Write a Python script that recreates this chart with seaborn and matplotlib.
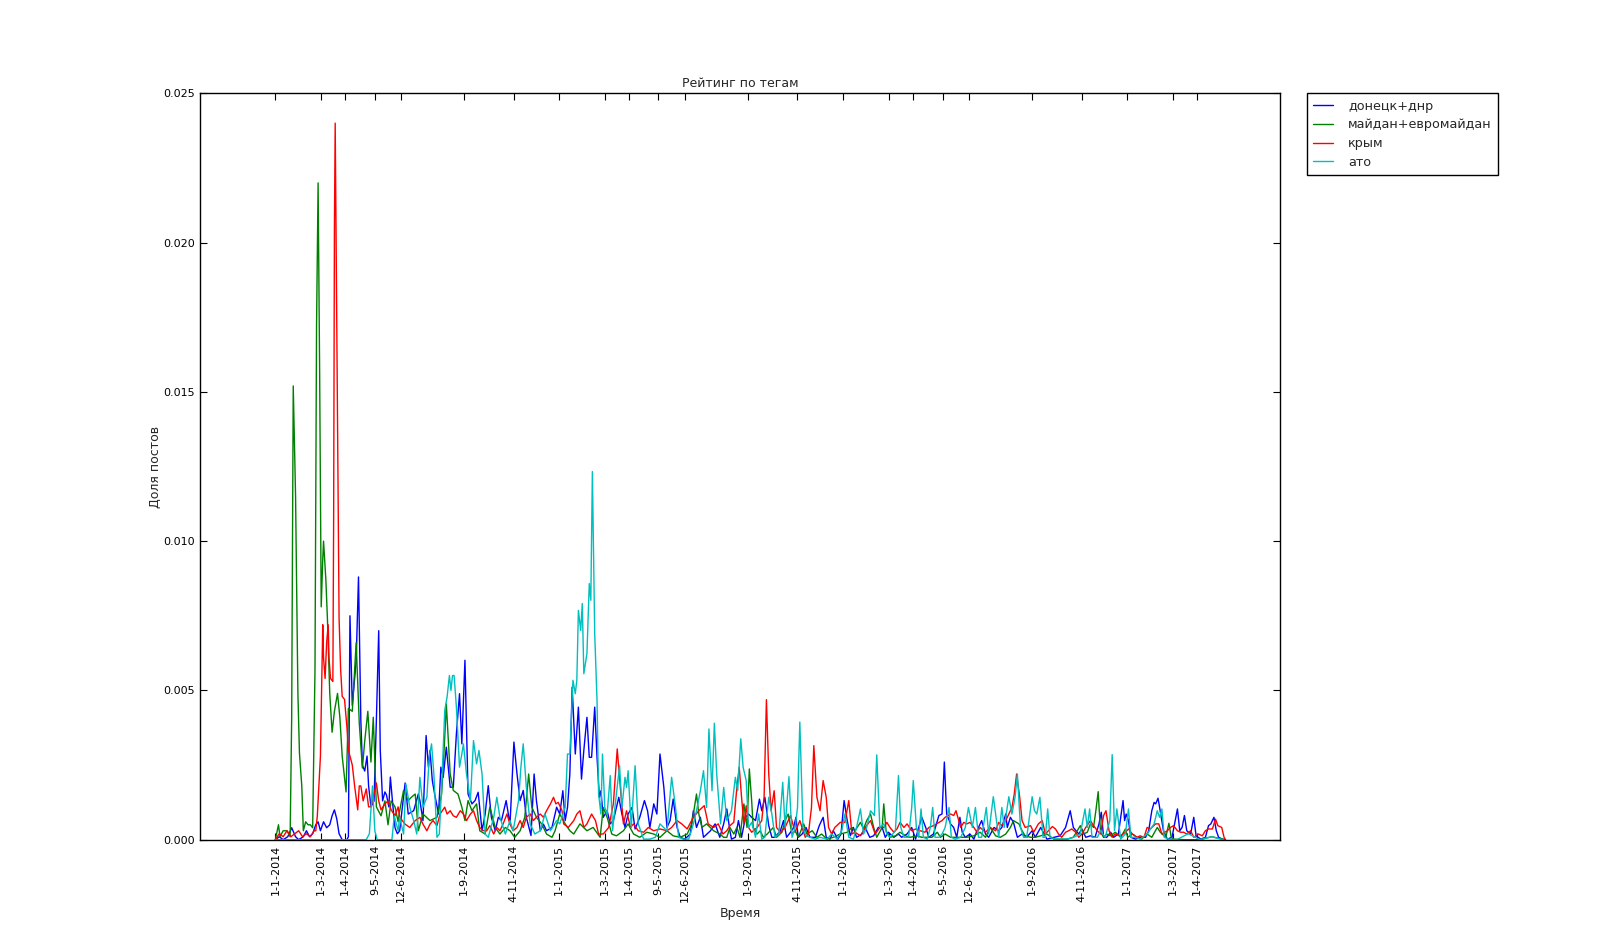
import matplotlib
matplotlib.use("Agg")
import matplotlib.pyplot as plt
from matplotlib.ticker import FormatStrFormatter
import pandas as pd
import seaborn as sns

START = "2014-01-01"

# (days since 1-1-2014, share of posts)
donetsk_dnr = [
    (0, 0), (5, 0.0001), (10, 0), (16, 0.0001), (21, 0.0004), (26, 0.0001), (30, 0), (36, 0.0001),
    (40, 0.0003), (44, 0.0001), (48, 0.0002), (52, 0.0005), (55, 0.0006), (58, 0.0003), (62, 0.0006),
    (66, 0.0004), (70, 0.0005), (73, 0.0008), (76, 0.0010), (79, 0.0007), (82, 0.0002), (86, 0),
    (92, 0), (94, 0.0001), (96, 0.0075), (99, 0.0045), (101, 0.0051), (104, 0.0060), (107, 0.0088),
    (110, 0.0040), (112, 0.0025), (115, 0.0023), (118, 0.0028), (120, 0.0018), (123, 0.0011),
    (127, 0.0013), (130, 0.0040), (133, 0.0070), (135, 0.0030), (138, 0.0013), (141, 0.0016),
    (143, 0.0015), (146, 0.0011), (148, 0.0021), (151, 0.0012), (154, 0.0004), (157, 0.0002),
    (160, 0.0003), (167, 0.0019), (171, 0.00086), (178, 0.00097), (184, 0.00153), (186, 0.00131),
    (190, 0.00064), (194, 0.00349), (197, 0.00243), (199, 0.00299), (202, 0.00198), (205, 0.00153),
    (210, 0.00086), (213, 0.00243), (216, 0.00209), (220, 0.0031), (225, 0.00176), (229, 0.00176),
    (233, 0.00355), (237, 0.00489), (240, 0.00321), (244, 0.00601), (248, 0.00153), (253, 0.0012),
    (257, 0.00131), (261, 0.00159), (266, 0.0003), (270, 0.00086), (274, 0.00181), (278, 0.00075),
    (283, 0.0003), (287, 0.00075), (291, 0.00064), (297, 0.00131), (302, 0.00052), (307, 0.00327),
    (311, 0.0022), (315, 0.00131), (319, 0.00165), (323, 0.00075), (329, 0.00014), (333, 0.0022),
    (336, 0.00131), (341, 0.0003), (345, 0.00052), (349, 0.0003), (356, 0.00041), (362, 0.00109),
    (366, 0.00086), (370, 0.00164), (373, 0.00064), (376, 0.00108), (379, 0.0022), (382, 0.00511),
    (386, 0.00287), (390, 0.00444), (394, 0.00203), (397, 0.00299), (401, 0.0041), (404, 0.00276),
    (407, 0.00276), (411, 0.00444), (414, 0.00276), (417, 0.00142), (419, 0.00164), (422, 0.00075),
    (427, 0.00097), (431, 0.00053), (435, 0.00064), (442, 0.00142), (446, 0.00086), (450, 0.00041),
    (454, 0.00086), (459, 0.00108), (463, 0.00036), (469, 0.00075), (475, 0.00131), (479, 0.00097),
    (482, 0.00041), (487, 0.0012), (491, 0.00086), (495, 0.00287), (500, 0.00175), (504, 0.00041),
    (508, 0.00064), (512, 0.00136), (517, 0.00041), (521, 0.00008), (527, 0.00002), (534, 0.00019),
    (538, 0.00097), (542, 0.00041), (547, 0.00075), (551, 0.00008), (560, 0.0003), (566, 0.00053),
    (572, 0.00008), (577, 0.00053), (581, 0.00103), (585, 0.0003), (587, 0.00002), (592, 0.00008),
    (596, 0.00064), (600, 0.00008), (605, 0.00075), (609, 0.00086), (613, 0.00075), (618, 0.00064),
    (623, 0.00136), (626, 0.00097), (630, 0.00142), (635, 0.00047), (639, 0.00008), (643, 0.00008),
    (650, 0.0003), (654, 0.00064), (658, 0.00008), (663, 0.00025), (667, 0.00041), (670, 0.00075),
    (673, 0.00008), (678, 0.00019), (683, 0.00041), (688, 0.00008), (695, 0.00008), (700, 0.00047),
    (705, 0.00075), (709, 0.00008), (714, 0.00002), (718, 0.0003), (724, 0.00002), (728, 0.00019),
    (732, 0.00131), (736, 0.00064), (740, 0.00013), (744, 0.00041), (748, 0.00008), (755, 0.00019),
    (759, 0.00041), (765, 0.00008), (770, 0.00013), (776, 0.00041), (781, 0.00041), (785, 0.00008),
    (789, 0.00025), (796, 0.00008), (802, 0.00019), (806, 0.00008), (813, 0.00019), (819, 0.00041),
    (824, 0.00002), (828, 0.00041), (832, 0.00075), (837, 0.00041), (841, 0.00008), (847, 0.00019),
    (854, 0.00081), (858, 0.00086), (861, 0.0026), (864, 0.00086), (869, 0.00053), (873, 0.00041),
    (877, 0.00008), (881, 0.00075), (884, 0.00025), (888, 0.00008), (894, 0.00019), (899, 0.00002),
    (903, 0.0003), (909, 0.00064), (914, 0.00019), (918, 0.00008), (925, 0.00041), (931, 0.0003),
    (935, 0.00041), (940, 0.00086), (942, 0.00041), (946, 0.00075), (950, 0.00058), (955, 0.00008),
    (961, 0.00019), (967, 0.00008), (974, 0.0003), (978, 0.00008), (985, 0.00041), (993, 0.00002),
    (1002, 0.00008), (1010, 0.00013), (1017, 0.00041), (1023, 0.00097), (1027, 0.00041),
    (1034, 0.00019), (1038, 0.00036), (1043, 0.00008), (1049, 0.00013), (1055, 0.00008),
    (1060, 0.00053), (1063, 0.00092), (1066, 0.00008), (1070, 0.00008), (1075, 0.00025),
    (1079, 0.00008), (1085, 0.00019), (1091, 0.00131), (1093, 0.00064), (1095, 0.00086),
    (1098, 0.00064), (1101, 0.00008), (1107, 0.00002), (1113, 0.00008), (1120, 0.00008),
    (1124, 0.0003), (1128, 0.00097), (1131, 0.00125), (1133, 0.0012), (1136, 0.00139),
    (1138, 0.00109), (1143, 0.0003), (1148, 0.00002), (1154, 0.00008), (1161, 0.00103),
    (1164, 0.0003), (1167, 0.00041), (1170, 0.00081), (1173, 0.0003), (1178, 0.00019),
    (1182, 0.00075), (1185, 0.00013), (1191, 0.00002), (1197, 0.00008), (1201, 0.00047),
    (1204, 0.00053), (1208, 0.00075), (1211, 0.0003), (1214, 0.00008), (1219, 0.00002), (1222, 0),
]

maidan = [
    (0, 0), (4, 0.0005), (6, 0.0001), (10, 0.0003), (15, 0.0003), (19, 0.0001), (21, 0.0041),
    (23, 0.0152), (26, 0.0115), (29, 0.0049), (31, 0.0029), (34, 0.0018), (36, 0.0003), (39, 0.0006),
    (42, 0.0005), (45, 0.0005), (48, 0.0004), (51, 0.0057), (53, 0.0172), (55, 0.0220), (57, 0.0156),
    (59, 0.0078), (61, 0.0094), (62, 0.0100), (65, 0.0087), (67, 0.0074), (70, 0.0049), (73, 0.0036),
    (76, 0.0043), (80, 0.0049), (83, 0.0041), (86, 0.0028), (91, 0.0016), (94, 0.0044), (99, 0.0043),
    (104, 0.0066), (108, 0.0039), (112, 0.0024), (115, 0.0033), (119, 0.0043), (123, 0.0026),
    (126, 0.0041), (130, 0.0011), (136, 0.0008), (141, 0.0013), (145, 0.0005), (149, 0.0013),
    (154, 0.0011), (158, 0.0006), (160, 0.00097), (165, 0.00165), (171, 0.00131), (175, 0.00142),
    (180, 0.00153), (184, 0.0003), (190, 0.00086), (199, 0.00064), (208, 0.00075), (214, 0.00153),
    (218, 0.00343), (220, 0.00455), (225, 0.0022), (229, 0.00165), (235, 0.00153), (240, 0.00109),
    (244, 0.00064), (248, 0.00131), (253, 0.00097), (259, 0.0012), (263, 0.0003), (270, 0.00019),
    (276, 0.00109), (283, 0.00041), (289, 0.00019), (296, 0.00041), (302, 0.0003), (308, 0.00008),
    (315, 0.0003), (321, 0.00075), (326, 0.0022), (330, 0.00109), (336, 0.00075), (343, 0.00052),
    (349, 0.00019), (356, 0.00008), (360, 0.0003), (366, 0.00086), (373, 0.00053), (379, 0.0003),
    (384, 0.00019), (392, 0.00053), (401, 0.0003), (409, 0.00041), (418, 0.00008), (422, 0.00108),
    (427, 0.00075), (433, 0.00019), (439, 0.00013), (448, 0.0003), (454, 0.00053), (461, 0.00019),
    (469, 0.00008), (478, 0.00025), (487, 0.00019), (495, 0.00008), (504, 0.0003), (512, 0.00013),
    (521, 0.00008), (530, 0.00019), (536, 0.00053), (542, 0.00153), (545, 0.00086), (549, 0.00041),
    (555, 0.00053), (564, 0.0003), (572, 0.00019), (577, 0.00008), (581, 0.00008), (585, 0.00041),
    (590, 0.00019), (594, 0.00041), (598, 0.00008), (603, 0.0012), (607, 0.00041), (610, 0.00237),
    (613, 0.00131), (615, 0.00041), (620, 0.00019), (624, 0.0003), (628, 0.00008), (633, 0.00019),
    (637, 0.0003), (641, 0.00041), (645, 0.00008), (652, 0.00025), (656, 0.00064), (660, 0.00086),
    (665, 0.00019), (669, 0.0003), (673, 0.00008), (680, 0.00053), (684, 0.00019), (691, 0.0003),
    (697, 0.00008), (703, 0.00019), (710, 0.00002), (718, 0.00008), (727, 0.00019), (736, 0.00025),
    (742, 0.00041), (746, 0.0003), (753, 0.00058), (757, 0.00036), (761, 0.00064), (766, 0.00086),
    (770, 0.00041), (774, 0.00008), (781, 0.00041), (783, 0.0012), (786, 0.0003), (791, 0.00008),
    (798, 0.00013), (804, 0.00025), (811, 0.00013), (817, 0.00008), (826, 0.00013), (832, 0.00008),
    (839, 0.00008), (845, 0.00008), (852, 0.00025), (856, 0.00008), (862, 0.00019), (869, 0.00008),
    (875, 0.00008), (882, 0.00008), (890, 0.00008), (899, 0.00013), (907, 0.00025), (914, 0.00008),
    (920, 0.00041), (927, 0.00013), (933, 0.00008), (940, 0.00019), (946, 0.00041), (950, 0.00064),
    (957, 0.00053), (961, 0.0003), (965, 0.00013), (972, 0.00008), (978, 0.00008), (985, 0.00013),
    (993, 0.00019), (1002, 0.00002), (1010, 0.00002), (1019, 0.00002), (1027, 0.00008),
    (1036, 0.00047), (1040, 0.00019), (1045, 0.00025), (1049, 0.00053), (1053, 0.00041),
    (1056, 0.00097), (1059, 0.00161), (1062, 0.00025), (1066, 0.00008), (1070, 0.00019),
    (1075, 0.00013), (1081, 0.00025), (1088, 0.00008), (1094, 0.00036), (1097, 0.00008),
    (1103, 0.00019), (1109, 0.00008), (1115, 0.00002), (1122, 0.00019), (1128, 0.00008),
    (1135, 0.00041), (1139, 0.00025), (1146, 0.00008), (1150, 0.00055), (1153, 0.00008),
    (1156, 0.00002), (1170, 0), (1190, 0), (1205, 0.0001), (1222, 0),
]

crimea = [
    (0, 0), (5, 0.0002), (10, 0.0001), (15, 0.0003), (20, 0.0001), (25, 0.0002), (30, 0.0003),
    (35, 0.0001), (40, 0.0002), (45, 0.0001), (50, 0.0003), (52, 0.0003), (54, 0.0008), (56, 0.0018),
    (58, 0.0028), (60, 0.0057), (61, 0.0072), (62, 0.0061), (64, 0.0054), (66, 0.0066), (68, 0.0072),
    (69, 0.0061), (71, 0.0054), (74, 0.0053), (75, 0.0107), (76, 0.0205), (77, 0.0240), (79, 0.0173),
    (81, 0.0107), (82, 0.0074), (84, 0.0057), (86, 0.0048), (89, 0.0047), (92, 0.0038), (94, 0.0030),
    (96, 0.0028), (99, 0.0025), (102, 0.0018), (106, 0.0010), (108, 0.0018), (110, 0.0018),
    (113, 0.0013), (117, 0.0017), (120, 0.0011), (123, 0.0011), (126, 0.0014), (130, 0.0019),
    (133, 0.0013), (136, 0.0010), (141, 0.0012), (145, 0.0013), (149, 0.0010), (154, 0.0008),
    (158, 0.0011), (160, 0.00075), (167, 0.00052), (173, 0.00041), (180, 0.00064), (186, 0.00075),
    (190, 0.00052), (195, 0.0003), (199, 0.00052), (203, 0.00064), (208, 0.00047), (212, 0.00086),
    (218, 0.00109), (221, 0.00086), (225, 0.00097), (229, 0.0008), (233, 0.00075), (238, 0.00097),
    (242, 0.00086), (246, 0.00064), (251, 0.00086), (255, 0.00097), (259, 0.00064), (263, 0.00041),
    (268, 0.0003), (272, 0.0003), (276, 0.00047), (281, 0.00019), (285, 0.00041), (289, 0.0003),
    (293, 0.00052), (298, 0.00086), (302, 0.00052), (306, 0.0003), (311, 0.00041), (315, 0.00064),
    (319, 0.00041), (323, 0.00075), (328, 0.00086), (332, 0.00064), (336, 0.00075), (341, 0.00086),
    (345, 0.00075), (349, 0.00097), (354, 0.0012), (358, 0.00142), (361, 0.0012), (364, 0.00125),
    (369, 0.00097), (371, 0.00053), (377, 0.00041), (384, 0.00064), (388, 0.00086), (392, 0.00097),
    (397, 0.00041), (401, 0.00053), (407, 0.00086), (412, 0.00064), (416, 0.00019), (422, 0.00019),
    (429, 0.00041), (435, 0.0012), (440, 0.00304), (444, 0.00175), (448, 0.00053), (452, 0.00097),
    (457, 0.00041), (461, 0.00053), (467, 0.0003), (474, 0.00025), (480, 0.00041), (487, 0.0003),
    (495, 0.00036), (504, 0.0003), (510, 0.00041), (517, 0.00064), (523, 0.00053), (530, 0.00036),
    (538, 0.00075), (545, 0.00097), (552, 0.00114), (557, 0.00053), (564, 0.00041), (570, 0.00053),
    (576, 0.00019), (581, 0.0003), (585, 0.00047), (590, 0.00058), (594, 0.00176), (597, 0.00243),
    (600, 0.00142), (603, 0.00053), (606, 0.00114), (609, 0.00041), (613, 0.00025), (620, 0.00041),
    (626, 0.00064), (629, 0.00142), (632, 0.00469), (635, 0.0022), (638, 0.00097), (642, 0.00164),
    (645, 0.00041), (650, 0.00025), (656, 0.00041), (663, 0.00081), (669, 0.00025), (675, 0.00064),
    (682, 0.00008), (686, 0.00019), (690, 0.00108), (693, 0.00315), (697, 0.00142), (701, 0.00097),
    (705, 0.00198), (709, 0.00142), (712, 0.00041), (716, 0.00019), (720, 0.00041), (727, 0.00058),
    (733, 0.00058), (738, 0.00131), (742, 0.00019), (746, 0.00025), (753, 0.00013), (759, 0.00041),
    (766, 0.00064), (772, 0.00019), (778, 0.00041), (783, 0.00041), (787, 0.00058), (791, 0.00041),
    (796, 0.00025), (800, 0.00036), (804, 0.00058), (809, 0.00041), (813, 0.00053), (819, 0.0003),
    (824, 0.00036), (830, 0.0003), (836, 0.00025), (841, 0.00041), (847, 0.00047), (854, 0.00058),
    (858, 0.00064), (862, 0.00075), (869, 0.00086), (873, 0.00081), (876, 0.00097), (882, 0.00041),
    (886, 0.00058), (890, 0.00053), (894, 0.00058), (899, 0.00041), (903, 0.00025), (907, 0.00041),
    (914, 0.00025), (920, 0.00041), (927, 0.0003), (931, 0.00058), (935, 0.00047), (940, 0.00064),
    (944, 0.00086), (948, 0.00108), (951, 0.00153), (954, 0.0022), (958, 0.00142), (961, 0.00064),
    (965, 0.00041), (972, 0.00047), (976, 0.00025), (982, 0.00053), (987, 0.00064), (991, 0.00019),
    (995, 0.0003), (1000, 0.00044), (1004, 0.00036), (1008, 0.00019), (1012, 0.00008),
    (1017, 0.00025), (1021, 0.0003), (1025, 0.00036), (1030, 0.00025), (1034, 0.00008),
    (1038, 0.00019), (1043, 0.00041), (1049, 0.00064), (1053, 0.00047), (1058, 0.0003),
    (1062, 0.00019), (1066, 0.00081), (1069, 0.00097), (1073, 0.0003), (1077, 0.00008),
    (1081, 0.00019), (1088, 0.00013), (1094, 0.00025), (1098, 0.00036), (1103, 0.00019),
    (1109, 0.00008), (1113, 0.00013), (1118, 0.00008), (1122, 0.00041), (1126, 0.00036),
    (1133, 0.00053), (1137, 0.00053), (1141, 0.00019), (1148, 0.0003), (1152, 0.00041),
    (1156, 0.00047), (1161, 0.0003), (1165, 0.00025), (1169, 0.00025), (1173, 0.00019),
    (1178, 0.0003), (1182, 0.00008), (1188, 0.00019), (1193, 0.00013), (1197, 0.0003),
    (1201, 0.00036), (1206, 0.00036), (1210, 0.00069), (1213, 0.00047), (1218, 0.00041),
    (1221, 0.00008), (1223, 0),
]

ato = [
    (0, 0), (117, 0), (121, 0.0002), (123, 0.0010), (125, 0.0018), (128, 0.0003), (131, 0), (150, 0),
    (153, 0.0008), (158, 0.0003), (160, 0.00075), (165, 0.00019), (168, 0.00187), (173, 0.00109),
    (178, 0.00064), (182, 0.00019), (186, 0.00209), (190, 0.00109), (195, 0.00142), (198, 0.00276),
    (201, 0.00321), (204, 0.0022), (208, 0.00008), (211, 0.00019), (214, 0.00176), (218, 0.00433),
    (221, 0.00478), (224, 0.0055), (226, 0.005), (228, 0.0055), (230, 0.0055), (233, 0.00444),
    (237, 0.00243), (240, 0.00287), (242, 0.00321), (246, 0.0022), (251, 0.00131), (255, 0.00332),
    (259, 0.00254), (262, 0.00299), (266, 0.0022), (270, 0.00019), (274, 0.00008), (281, 0.00075),
    (285, 0.00142), (289, 0.00075), (296, 0.00019), (302, 0.00064), (306, 0.0003), (313, 0.00131),
    (316, 0.00243), (319, 0.00321), (323, 0.00176), (328, 0.00052), (334, 0.00019), (341, 0.0003),
    (347, 0.00086), (354, 0.0003), (362, 0.00064), (366, 0.00053), (373, 0.00108), (376, 0.00287),
    (379, 0.00287), (383, 0.00534), (386, 0.00489), (388, 0.00534), (390, 0.00768), (393, 0.00701),
    (395, 0.00791), (397, 0.00556), (401, 0.00623), (403, 0.0078), (404, 0.00858), (406, 0.00802),
    (408, 0.01233), (411, 0.0069), (414, 0.00466), (416, 0.00153), (419, 0.00086), (421, 0.00287),
    (424, 0.00108), (427, 0.00086), (431, 0.00215), (434, 0.0003), (437, 0.00108), (443, 0.00248),
    (446, 0.00108), (450, 0.00209), (452, 0.00175), (454, 0.00231), (458, 0.00041), (463, 0.00248),
    (467, 0.00053), (474, 0.00002), (482, 0.00002), (489, 0.00008), (495, 0.00053), (504, 0.0003),
    (510, 0.00209), (515, 0.00108), (519, 0.00008), (525, 0.00002), (532, 0.00002), (538, 0.00053),
    (542, 0.00097), (547, 0.00164), (551, 0.00231), (555, 0.00108), (558, 0.00371), (562, 0.00164),
    (565, 0.0039), (568, 0.0022), (573, 0.00053), (577, 0.00175), (581, 0.00064), (587, 0.00097),
    (592, 0.00209), (595, 0.00164), (599, 0.00338), (602, 0.00243), (606, 0.00198), (609, 0.00041),
    (613, 0.00058), (618, 0.00008), (622, 0.00086), (626, 0.00002), (630, 0.00008), (635, 0.00142),
    (639, 0.00086), (643, 0.00008), (648, 0.00019), (653, 0.00192), (656, 0.00041), (661, 0.00211),
    (665, 0.00008), (669, 0.00041), (672, 0.00108), (675, 0.00394), (679, 0.00041), (683, 0.00013),
    (688, 0.00008), (695, 0.00002), (701, 0.00008), (710, 0.00002), (716, 0.00019), (723, 0.00002),
    (729, 0.0003), (733, 0.00086), (738, 0.00008), (744, 0.00002), (748, 0.00041), (753, 0.00103),
    (757, 0.00019), (761, 0.00041), (766, 0.00097), (771, 0.00081), (774, 0.00284), (778, 0.00041),
    (783, 0.00053), (787, 0.00019), (791, 0.00008), (798, 0.0003), (802, 0.00215), (805, 0.00041),
    (809, 0.00008), (815, 0.00008), (819, 0.00108), (821, 0.00198), (825, 0.00041), (828, 0.00008),
    (831, 0.00103), (834, 0.00008), (839, 0.00002), (843, 0.00041), (846, 0.00108), (849, 0.00008),
    (854, 0.00008), (858, 0.00019), (862, 0.00041), (867, 0.00108), (870, 0.00008), (875, 0.00002),
    (882, 0.00008), (888, 0.00041), (892, 0.00108), (897, 0.00041), (901, 0.00108), (905, 0.00008),
    (909, 0.00008), (915, 0.00108), (918, 0.00019), (924, 0.00144), (927, 0.00086), (931, 0.00008),
    (935, 0.00108), (938, 0.00041), (944, 0.00144), (948, 0.00086), (952, 0.00142), (955, 0.0022),
    (959, 0.00041), (963, 0.00008), (967, 0.00008), (974, 0.00144), (977, 0.00097), (980, 0.00086),
    (984, 0.00142), (988, 0.00008), (991, 0.00008), (994, 0.00103), (997, 0.00008), (1004, 0.00002),
    (1010, 0.00002), (1019, 0.00002), (1027, 0.00008), (1036, 0.00019), (1042, 0.00103),
    (1045, 0.00041), (1048, 0.00103), (1051, 0.00008), (1058, 0.00008), (1062, 0.0003),
    (1068, 0.00008), (1074, 0.00064), (1077, 0.00285), (1080, 0.0003), (1083, 0.00103),
    (1088, 0.00002), (1094, 0.00019), (1098, 0.00103), (1101, 0.00008), (1107, 0.00008),
    (1113, 0.00002), (1122, 0.00019), (1131, 0.00053), (1135, 0.00097), (1138, 0.00075),
    (1141, 0.00103), (1144, 0.00008), (1150, 0.00002), (1160, 0), (1175, 0.0002), (1190, 0),
    (1205, 0.0001), (1220, 0),
]

series_names = ["донецк+днр", "майдан+евромайдан", "крым", "ато"]
series_colors = ["#0000ff", "#008000", "#ff0000", "#00bfbf"]

tick_labels = [
    "1-1-2014", "1-3-2014", "1-4-2014", "9-5-2014", "12-6-2014", "1-9-2014", "4-11-2014",
    "1-1-2015", "1-3-2015", "1-4-2015", "9-5-2015", "12-6-2015", "1-9-2015", "4-11-2015",
    "1-1-2016", "1-3-2016", "1-4-2016", "9-5-2016", "12-6-2016", "1-9-2016", "4-11-2016",
    "1-1-2017", "1-3-2017", "1-4-2017",
]

tick_days = (pd.to_datetime(tick_labels, format="%d-%m-%Y") - pd.Timestamp(START)).days

sns.set_theme(style="ticks", rc={
    "axes.edgecolor": "black",
    "axes.linewidth": 1.0,
    "xtick.direction": "in",
    "ytick.direction": "in",
    "xtick.top": True,
    "ytick.right": True,
    "xtick.major.size": 5,
    "ytick.major.size": 5,
    "xtick.color": "black",
    "ytick.color": "black",
})
plt.rcParams["font.family"] = ["DejaVu Sans"]

fig, ax = plt.subplots(figsize=(16, 9.33), dpi=100)
fig.subplots_adjust(left=0.125, right=0.8, bottom=0.1, top=0.9)

for name, pts, color in zip(series_names, [donetsk_dnr, maidan, crimea, ato], series_colors):
    df = pd.DataFrame(pts, columns=["day", "share"])
    sns.lineplot(data=df, x="day", y="share", color=color, label=name,
                 linewidth=1.0, estimator=None, ax=ax)

ax.set_xlim(-97, 1293)
ax.set_ylim(0, 0.025)
ax.set_yticks([0, 0.005, 0.01, 0.015, 0.02, 0.025])
ax.yaxis.set_major_formatter(FormatStrFormatter("%.3f"))
ax.set_xticks(tick_days)
ax.set_xticklabels(tick_labels, rotation=90)
ax.tick_params(axis="both", labelsize=8, width=0.8)

ax.set_title("Рейтинг по тегам", fontsize=9, pad=4.5)
ax.set_xlabel("Время", fontsize=9, family=["Liberation Sans Narrow", "DejaVu Sans"])
ax.set_ylabel("Доля постов", fontsize=9, labelpad=1,
              family=["Liberation Sans Narrow", "DejaVu Sans"])

leg = ax.legend(loc="upper left", bbox_to_anchor=(1.025, 1.0), borderaxespad=0,
                fancybox=False, framealpha=1, edgecolor="black", fontsize=9.2,
                handlelength=1.5, handletextpad=1.2, borderpad=0.5, labelspacing=0.45)
leg.get_frame().set_linewidth(1.0)

fig.savefig("out.png", dpi=100, facecolor="white")
